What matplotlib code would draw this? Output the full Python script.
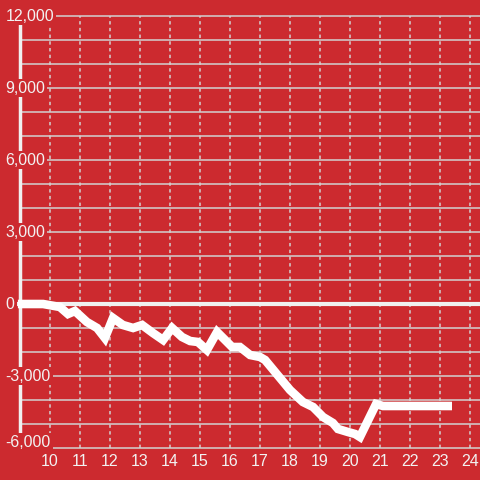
import matplotlib
matplotlib.use("Agg")
import matplotlib.pyplot as plt

# data
xs = [8.93, 9.77, 10.33, 10.6, 10.83, 11.23, 11.57, 11.83, 12.1, 12.43, 12.77, 13.07,
      13.43, 13.77, 14.07, 14.4, 14.67, 14.93, 15.23, 15.57, 16.07, 16.33, 16.67,
      17.0, 17.17, 18.0, 18.43, 18.77, 19.1, 19.43, 19.6, 19.93, 20.17, 20.33,
      20.87, 21.1, 23.4]
ys = [0, 0, -125, -417, -292, -750, -1000, -1417, -583, -875, -1000, -875,
      -1208, -1500, -1000, -1375, -1542, -1583, -1917, -1167, -1792, -1792, -2125,
      -2208, -2333, -3583, -4083, -4292, -4708, -4958, -5208, -5333, -5417, -5542,
      -4167, -4250, -4250]
x_ticks = list(range(10, 25))
y_ticks = [12000, 9000, 6000, 3000, 0, -3000, -6000]
y_tick_labels = ["12,000", "9,000", "6,000", "3,000", "0", "-3,000", "-6,000"]
y_minor = list(range(-6000, 12001, 1000))

BG = "#cc2a2f"
TXT = "#f2f2f2"
GRID = "#d2d2d2"

plt.rcParams['font.family'] = ['Liberation Sans', 'DejaVu Sans']
fig = plt.figure(figsize=(4.8, 4.8), dpi=100, facecolor=BG)
ax = fig.add_axes([0, 0, 1, 1])
ax.set_facecolor(BG)
ax.set_xlim(8.3333, 24.3333)
ax.set_ylim(-7333.3, 12666.7)
ax.axis('off')

# horizontal grid
for v in y_minor:
    ax.hlines(v, 9.0, 24.3333, color=GRID, lw=1.1, zorder=1)
# vertical dashed grid
for v in x_ticks:
    ax.vlines(v, -6000, 12000, color=GRID, lw=1.1, linestyles=(0, (2.2, 2.2)), zorder=1)
# left axis line
ax.vlines(9.0, -6000, 12000, color="#f0f0f0", lw=2.5, zorder=2)
# zero line
ax.hlines(0, 8.9, 24.3333, color="#f0f0f0", lw=3, zorder=2)

# data line
ax.plot(xs, ys, color="white", lw=6.2, solid_joinstyle='miter', solid_capstyle='butt', zorder=4)

# y labels (lowest one nudged up to stay inside the chart)
for v, lab in zip(y_ticks, y_tick_labels):
    ypos = v if v > -6000 else v + 250
    ax.text(8.52, ypos, lab, ha='left', va='center', fontsize=11.5, color=TXT, zorder=5,
            bbox=dict(boxstyle='square,pad=0.12', fc=BG, ec='none'))
# x labels
for v in x_ticks:
    ax.text(v, -6550, str(v), ha='center', va='center', fontsize=11.5, color=TXT, zorder=5)

fig.savefig("out.png", dpi=100, facecolor=BG)
